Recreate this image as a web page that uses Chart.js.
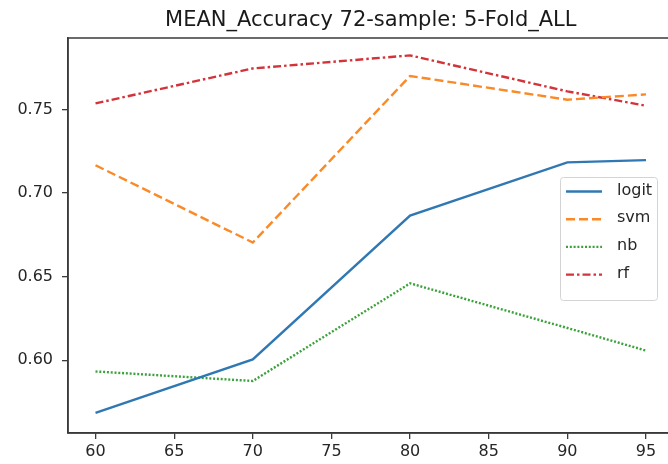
<!DOCTYPE html>
<html>
<head>
<meta charset="utf-8">
<script src="https://cdn.jsdelivr.net/npm/chart.js@4/dist/chart.umd.min.js"></script>
<style>
  html, body { margin: 0; padding: 0; background: #fff; }
  #wrap { width: 668px; height: 464px; overflow: hidden; }
</style>
</head>
<body>
<div id="wrap"><canvas id="accuracyChart" width="675" height="464"></canvas></div>
<script>
// sample sizes (x) and mean 5-fold accuracy per model
const sampleSizes = [60, 70, 80, 90, 95];
const logitAcc = [0.5685, 0.6005, 0.6865, 0.7183, 0.7197];
const svmAcc = [0.7166, 0.6704, 0.7700, 0.7558, 0.7590];
const nbAcc = [0.5933, 0.5876, 0.6460, 0.6193, 0.6058];
const rfAcc = [0.7536, 0.7745, 0.7823, 0.7608, 0.7522];
const xTicks = [60, 65, 70, 75, 80, 85, 90, 95];
const yTicks = [0.60, 0.65, 0.70, 0.75];

const toPoints = (ys) => sampleSizes.map((x, i) => ({ x: x, y: ys[i] }));
const ink = "#262626";

// axes frame on all four sides
const framePlugin = {
  id: "frame",
  afterDraw(chart) {
    const a = chart.chartArea;
    const ctx = chart.ctx;
    ctx.save();
    ctx.strokeStyle = "#3a3a3a";
    ctx.lineWidth = 1.5;
    ctx.strokeRect(a.left, a.top, a.right - a.left, a.bottom - a.top);
    ctx.restore();
  }
};

// legend box drawn inside the plot, right side
const boxLegend = {
  id: "boxLegend",
  afterDraw(chart) {
    const ctx = chart.ctx;
    const x0 = 560.5, y0 = 177.5, w = 97, h = 123;
    ctx.save();
    ctx.beginPath();
    ctx.roundRect(x0, y0, w, h, 3);
    ctx.fillStyle = "rgba(255,255,255,0.85)";
    ctx.fill();
    ctx.strokeStyle = "#d4d4d4";
    ctx.lineWidth = 1;
    ctx.stroke();
    ctx.font = "16px 'DejaVu Sans'";
    ctx.textBaseline = "middle";
    chart.data.datasets.forEach((ds, i) => {
      const y = 191.5 + i * 27.7;
      ctx.beginPath();
      ctx.setLineDash(ds.borderDash || []);
      ctx.strokeStyle = ds.borderColor;
      ctx.lineWidth = ds.borderWidth;
      ctx.moveTo(566, y);
      ctx.lineTo(602, y);
      ctx.stroke();
      ctx.setLineDash([]);
      ctx.fillStyle = ink;
      ctx.fillText(ds.label, 617, y - 1);
    });
    ctx.restore();
  }
};

const ctx = document.getElementById("accuracyChart").getContext("2d");
const accuracyChart = new Chart(ctx, {
  type: "line",
  data: {
    datasets: [
      { label: "logit", data: toPoints(logitAcc), borderColor: "#2f78b3", borderWidth: 2.4 },
      { label: "svm", data: toPoints(svmAcc), borderColor: "#fb8a26", borderWidth: 2.4, borderDash: [9, 4] },
      { label: "nb", data: toPoints(nbAcc), borderColor: "#3aa23a", borderWidth: 2.4, borderDash: [2, 1.8] },
      { label: "rf", data: toPoints(rfAcc), borderColor: "#d2343a", borderWidth: 2.4, borderDash: [8, 3, 2.5, 3] }
    ]
  },
  options: {
    responsive: false,
    animation: false,
    devicePixelRatio: 1,
    layout: { padding: { left: 0, right: 1.5, top: 0, bottom: 0 } },
    elements: {
      point: { radius: 0 },
      line: { tension: 0, fill: false, borderCapStyle: "butt" }
    },
    plugins: {
      legend: { display: false },
      tooltip: { enabled: false },
      title: {
        display: true,
        fullSize: false,
        text: "MEAN_Accuracy 72-sample: 5-Fold_ALL",
        color: "#1a1a1a",
        font: { family: "DejaVu Sans", size: 21, weight: "normal" },
        padding: { top: 8.4, bottom: 4.4 }
      }
    },
    scales: {
      x: {
        type: "linear",
        min: 58.25,
        max: 96.75,
        afterBuildTicks: (scale) => { scale.ticks = xTicks.map(v => ({ value: v })); },
        afterFit: (scale) => { scale.height = 31; },
        grid: { drawOnChartArea: false, drawTicks: true, tickLength: 6, color: "#3a3a3a", lineWidth: 1.3 },
        border: { display: true, color: "#3a3a3a", width: 1.5 },
        ticks: { color: ink, padding: 3, maxRotation: 0, font: { family: "DejaVu Sans", size: 16 } }
      },
      y: {
        min: 0.5565,
        max: 0.7927,
        afterBuildTicks: (scale) => { scale.ticks = yTicks.map(v => ({ value: v })); },
        afterFit: (scale) => { scale.width = 68; },
        grid: { drawOnChartArea: false, drawTicks: true, tickLength: 6, color: "#3a3a3a", lineWidth: 1.3 },
        border: { display: true, color: "#3a3a3a", width: 1.5 },
        ticks: {
          color: ink,
          padding: 9,
          font: { family: "DejaVu Sans", size: 16 },
          callback: (v) => Number(v).toFixed(2)
        }
      }
    }
  },
  plugins: [framePlugin, boxLegend]
});
</script>
</body>
</html>
